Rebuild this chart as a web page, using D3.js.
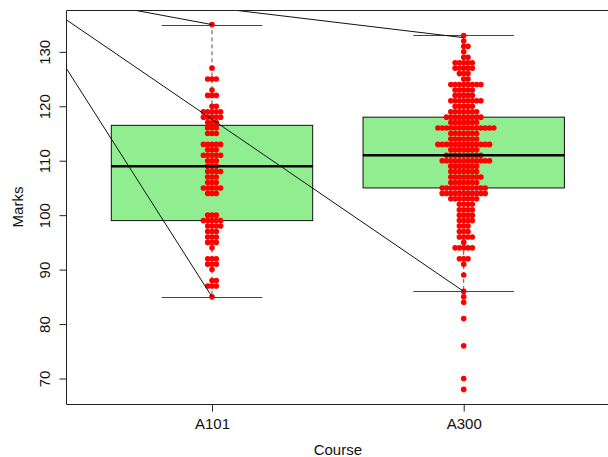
<!DOCTYPE html>
<html>
<head>
<meta charset="utf-8">
<script src="https://cdn.jsdelivr.net/npm/d3@7"></script>
<style>
  body { margin: 0; background: #fff; }
  text { font-family: "Liberation Sans", Arial, Helvetica, sans-serif; fill: #111; }
</style>
</head>
<body>
<svg id="chart" width="608" height="457"></svg>
<script>
// Courses on the x axis
const courses = ["A101", "A300"];

// Marks per course as [mark, number of students with that mark]
const a101Counts = [
  [135,1],[127,1],[125,3],[123,1],[122,3],[120,2],[119,5],[118,5],[117,3],[116,3],[115,3],
  [113,5],[112,3],[111,5],[110,3],[109,3],[108,4],[107,3],[106,3],[105,5],[104,3],
  [100,3],[99,5],[98,4],[97,3],[96,3],[95,3],[94,1],[92,3],[91,3],[90,1],[88,2],[87,3],[85,1]
];
const a300Counts = [
  [133,1],[132,1],[131,2],[130,1],[129,2],[128,5],[127,5],[126,3],[125,2],[124,8],[123,5],
  [122,5],[121,8],[120,5],[119,7],[118,9],[117,7],[116,14],[115,7],[114,7],[113,13],[112,7],
  [111,9],[110,12],[109,7],[108,7],[107,8],[106,7],[105,11],[104,11],[103,7],[102,4],[101,4],
  [100,4],[99,4],[98,3],[97,3],[96,4],[95,1],[94,5],[92,3],[91,1],[89,1],[86,1],[85,1],
  [84,1],[81,1],[76,1],[70,1],[68,1]
];

// Box summaries, one entry per course
const lowerHinge  = [99, 105];
const medianMark  = [109, 111];
const upperHinge  = [116.5, 118];
const whiskerLow  = [85, 86];
const whiskerHigh = [135, 133];

// Y axis ticks
const yTicks = [70, 80, 90, 100, 110, 120, 130];

// Straight reference lines: mark at position 0, and the course/mark they run to
const guideStart  = [157.5, 149.2, 143.6, 143.7];
const guideCourse = ["A101", "A300", "A101", "A300"];
const guideEnd    = [85, 86, 135, 132.6];

const svg = d3.select("#chart");
const plot = { left: 66, top: 10, bottom: 404 };

const pos = d3.scaleLinear().domain([0.42, 2.58]).range([plot.left, 609.7]);
const y = d3.scaleLinear().domain([65.32, 137.68]).range([plot.bottom, plot.top]);
const cx = c => pos(courses.indexOf(c) + 1);

const boxHalf = 0.4, capHalf = 0.2;
const dotR = 2.8, dotStep = 4.3;

// Expand counts into individual students and lay them out as a swarm
function swarm(course, counts) {
  const out = [];
  counts.forEach(([mark, n]) => {
    for (let k = 0; k < n; k++) {
      const off = k === 0 ? 0 : (k % 2 === 1 ? Math.ceil(k / 2) : -k / 2);
      out.push({ course, mark, off });
    }
  });
  return out;
}
const students = swarm("A101", a101Counts).concat(swarm("A300", a300Counts));

svg.append("defs").append("clipPath").attr("id", "plotClip")
  .append("rect").attr("x", plot.left).attr("y", plot.top)
  .attr("width", 608 - plot.left).attr("height", plot.bottom - plot.top);

const boxes = courses.map((c, i) => ({
  course: c, lo: lowerHinge[i], med: medianMark[i], hi: upperHinge[i],
  wLo: whiskerLow[i], wHi: whiskerHigh[i], i: i + 1
}));

const g = svg.append("g");

// whiskers (dashed)
g.selectAll(".whisk").data(boxes.flatMap(b => [[b.i, b.hi, b.wHi], [b.i, b.lo, b.wLo]]))
  .join("line")
  .attr("x1", d => pos(d[0])).attr("x2", d => pos(d[0]))
  .attr("y1", d => y(d[1])).attr("y2", d => y(d[2]))
  .attr("stroke", "#555").attr("stroke-width", 1).attr("stroke-dasharray", "4,3");

// whisker caps
g.selectAll(".cap").data(boxes.flatMap(b => [[b.i, b.wHi], [b.i, b.wLo]]))
  .join("line")
  .attr("x1", d => pos(d[0] - capHalf)).attr("x2", d => pos(d[0] + capHalf))
  .attr("y1", d => Math.round(y(d[1])) + 0.5).attr("y2", d => Math.round(y(d[1])) + 0.5)
  .attr("stroke", "#444").attr("stroke-width", 1);

// boxes
g.selectAll(".box").data(boxes).join("rect")
  .attr("x", d => pos(d.i - boxHalf)).attr("width", d => pos(d.i + boxHalf) - pos(d.i - boxHalf))
  .attr("y", d => y(d.hi)).attr("height", d => y(d.lo) - y(d.hi))
  .attr("fill", "#90EE90").attr("stroke", "#111").attr("stroke-width", 1);

// students
g.selectAll(".dot").data(students).join("circle")
  .attr("cx", d => cx(d.course) + d.off * dotStep)
  .attr("cy", d => y(d.mark))
  .attr("r", dotR).attr("fill", "#FF0000");

// medians
g.selectAll(".med").data(boxes).join("line")
  .attr("x1", d => pos(d.i - boxHalf)).attr("x2", d => pos(d.i + boxHalf))
  .attr("y1", d => y(d.med)).attr("y2", d => y(d.med))
  .attr("stroke", "#000").attr("stroke-width", 2.5);

// reference lines
svg.append("g").attr("clip-path", "url(#plotClip)")
  .selectAll("line").data(guideStart.map((s, i) => ({ s, c: guideCourse[i], e: guideEnd[i] })))
  .join("line")
  .attr("x1", pos(0)).attr("y1", d => y(d.s))
  .attr("x2", d => cx(d.c)).attr("y2", d => y(d.e))
  .attr("stroke", "#111").attr("stroke-width", 1);

// frame (right side lies beyond the canvas)
svg.append("path")
  .attr("d", `M608,${plot.top + 0.5}H${plot.left + 0.5}V${plot.bottom + 0.5}H608`)
  .attr("fill", "none").attr("stroke", "#222").attr("stroke-width", 1);

// y axis
const yAxis = d3.axisLeft(y).tickValues(yTicks).tickSize(7).tickPadding(9);
const ya = svg.append("g").attr("transform", `translate(${plot.left + 0.5},0)`).call(yAxis);
ya.select(".domain").attr("stroke", "none");
ya.selectAll(".tick line").attr("stroke", "#222");
ya.selectAll(".tick text")
  .attr("transform", "rotate(-90)").attr("x", 0).attr("y", -17)
  .attr("dy", 0).attr("text-anchor", "middle")
  .style("font-size", "15px").style("font-family", "Liberation Sans, Arial, sans-serif").attr("fill", "#111");

// x axis
const xAxis = d3.axisBottom(d3.scalePoint().domain(courses).range([pos(1), pos(2)]))
  .tickSize(7).tickPadding(9);
const xa = svg.append("g").attr("transform", `translate(0,${plot.bottom + 0.5})`).call(xAxis);
xa.select(".domain").attr("stroke", "none");
xa.selectAll(".tick line").attr("stroke", "#222");
xa.selectAll(".tick text").attr("y", 24).attr("dy", 0)
  .style("font-size", "15px").style("font-family", "Liberation Sans, Arial, sans-serif").attr("fill", "#111");

// axis titles
svg.append("text").attr("x", (plot.left + 609.7) / 2).attr("y", 455)
  .attr("text-anchor", "middle").style("font-size", "15px").text("Course");
svg.append("text").attr("transform", `translate(23,${(plot.top + plot.bottom) / 2}) rotate(-90)`)
  .attr("text-anchor", "middle").style("font-size", "15px").text("Marks");
</script>
</body>
</html>
